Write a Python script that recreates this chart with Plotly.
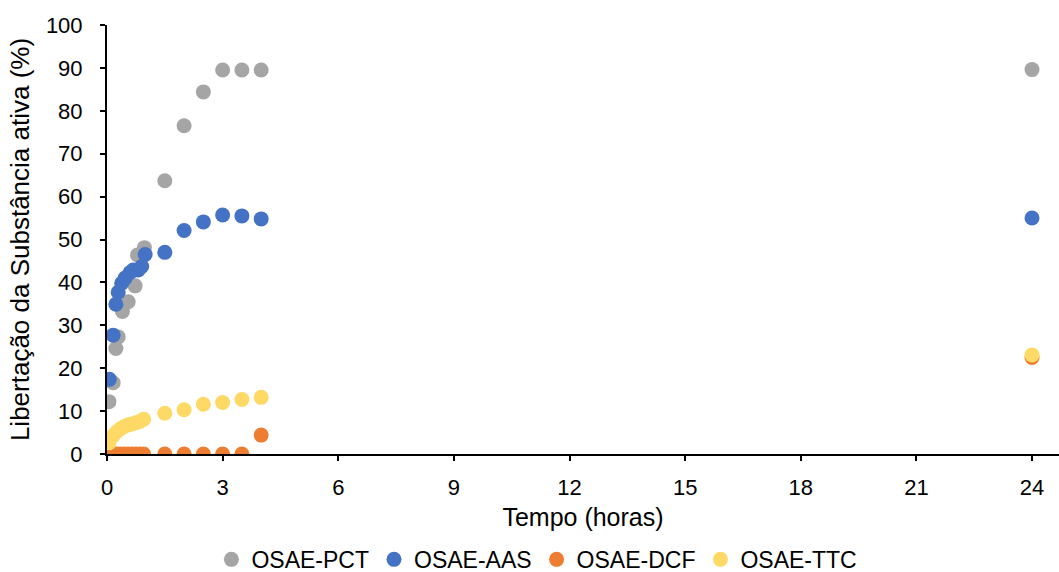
import plotly.graph_objects as go

# Data (time in hours, release in %)
pct_t = [0.05, 0.16, 0.23, 0.29, 0.40, 0.55, 0.73, 0.79, 0.97, 1.5, 2, 2.5, 3, 3.5, 4, 24]
pct_v = [12.2, 16.6, 24.6, 27.3, 33.2, 35.5, 39.2, 46.4, 48.1, 63.7, 76.5, 84.4, 89.5, 89.5, 89.5, 89.6]

aas_t = [0.06, 0.16, 0.23, 0.29, 0.38, 0.47, 0.60, 0.68, 0.81, 0.90, 0.99, 1.5, 2, 2.5, 3, 3.5, 4, 24]
aas_v = [17.4, 27.7, 34.9, 37.7, 39.8, 41.0, 42.3, 42.9, 42.9, 43.7, 46.5, 47.0, 52.1, 54.1, 55.7, 55.5, 54.8, 55.0]

dcf_t = [0.05, 0.15, 0.25, 0.35, 0.45, 0.55, 0.65, 0.75, 0.85, 0.95, 1.5, 2, 2.5, 3, 3.5, 4, 24]
dcf_v = [0, 0, 0, 0, 0, 0, 0, 0, 0, 0, 0, 0, 0, 0, 0, 4.4, 22.5]

ttc_t = [0.05, 0.15, 0.25, 0.35, 0.45, 0.55, 0.65, 0.75, 0.85, 0.95, 1.5, 2, 2.5, 3, 3.5, 4, 24]
ttc_v = [2.6, 4.2, 5.2, 5.9, 6.4, 6.8, 7.0, 7.3, 7.6, 8.1, 9.5, 10.3, 11.6, 12.0, 12.7, 13.2, 23.1]

series = [
    ("OSAE-PCT", pct_t, pct_v, "#A5A5A5"),
    ("OSAE-AAS", aas_t, aas_v, "#4472C4"),
    ("OSAE-DCF", dcf_t, dcf_v, "#ED7D31"),
    ("OSAE-TTC", ttc_t, ttc_v, "#FFD966"),
]

x_ticks = [0, 3, 6, 9, 12, 15, 18, 21, 24]
y_ticks = [0, 10, 20, 30, 40, 50, 60, 70, 80, 90, 100]

fig = go.Figure()
for name, t, v, c in series:
    fig.add_trace(go.Scatter(x=t, y=v, mode="markers", name=name,
                             marker=dict(color=c, size=15, line=dict(width=0))))

font = "Liberation Sans, Arial, sans-serif"
fig.update_layout(
    width=1059, height=572,
    margin=dict(l=107, r=0, t=25, b=118),
    plot_bgcolor="white", paper_bgcolor="white",
    font=dict(family=font, size=22, color="black"),
    showlegend=True,
    legend=dict(orientation="h", xref="container", yref="container",
                x=0.507, xanchor="center", y=0.022, yanchor="middle",
                font=dict(size=23), itemwidth=30, tracegroupgap=0),
    xaxis=dict(range=[0, 24.7], tickvals=x_ticks, showgrid=False, zeroline=False,
               showline=True, linecolor="black", linewidth=2,
               ticks="outside", ticklen=5, tickwidth=2, tickcolor="black",
               tickfont=dict(size=22), ticklabelstandoff=8,
               title=dict(text="Tempo (horas)", font=dict(size=25), standoff=9)),
    yaxis=dict(range=[0, 100], tickvals=y_ticks, showgrid=False, zeroline=False,
               showline=True, linecolor="black", linewidth=2,
               ticks="outside", ticklen=5, tickwidth=2, tickcolor="black",
               tickfont=dict(size=22), ticklabelstandoff=13,
               title=dict(text="Libertação da Substância ativa (%)", font=dict(size=26), standoff=9)),
)

fig.write_html("out.html")
